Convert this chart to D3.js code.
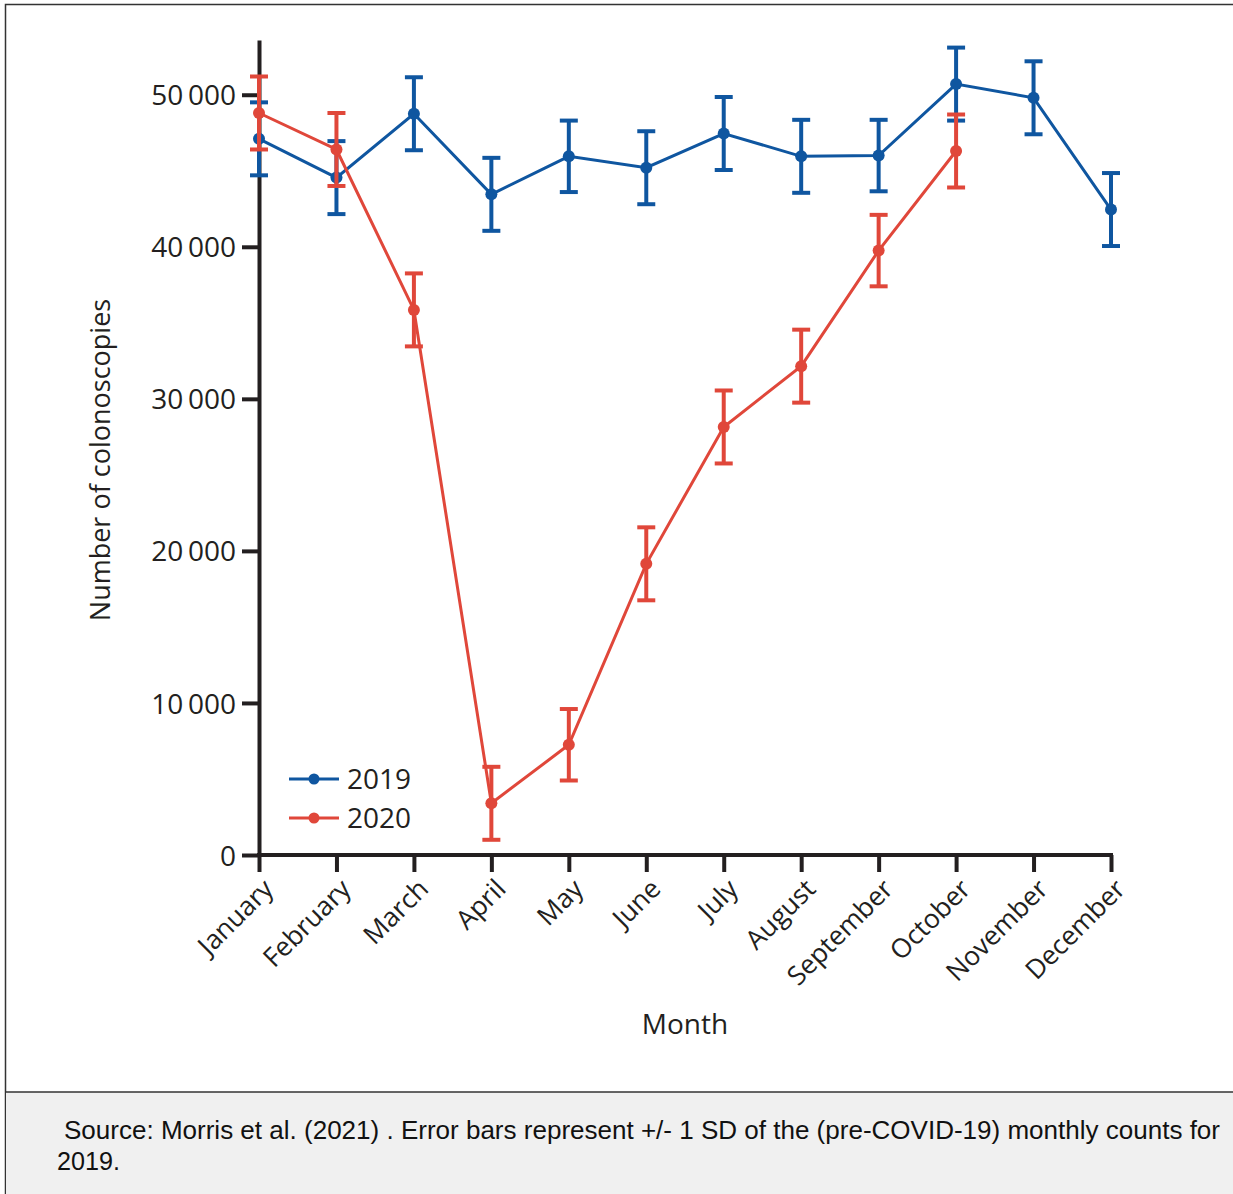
<!DOCTYPE html>
<html>
<head>
<meta charset="utf-8">
<script src="https://cdn.jsdelivr.net/npm/d3@7"></script>
<style>
  html, body { margin: 0; padding: 0; background: #fff; }
  svg { display: block; }
  .chart-text { font-family: "Open Sans", "Noto Sans", sans-serif; fill: #231f20; }
  .note { font-family: "Liberation Sans", Arial, sans-serif; fill: #111; }
</style>
</head>
<body>
<svg id="chart" width="1233" height="1194"></svg>
<script>
// Monthly colonoscopy counts
const months = ["January", "February", "March", "April", "May", "June",
  "July", "August", "September", "October", "November", "December"];
const counts2019 = [47100, 44550, 48750, 43450, 45950, 45200, 47450, 45950, 46000, 50700, 49800, 42450];
const counts2020 = [48800, 46400, 35850, 3400, 7250, 19150, 28150, 32150, 39750, 46300];
// +/- 1 SD of the 2019 monthly counts
const sd2019 = [2400, 2400, 2400, 2400, 2350, 2400, 2400, 2400, 2350, 2400, 2400, 2400];
const yTicks = [0, 10000, 20000, 30000, 40000, 50000];

const blue = "#0f56a0";
const red = "#e0473a";
const ink = "#231f20";

const svg = d3.select("#chart");

// Frame and footer
svg.append("rect").attr("x", 5.5).attr("y", 4.5).attr("width", 1240).attr("height", 1200)
  .attr("fill", "#fff").attr("stroke", "#333").attr("stroke-width", 1.5);
svg.append("rect").attr("x", 6).attr("y", 1092).attr("width", 1240).attr("height", 110)
  .attr("fill", "#f0f0f0");
svg.append("line").attr("x1", 5).attr("x2", 1233).attr("y1", 1092).attr("y2", 1092)
  .attr("stroke", "#333").attr("stroke-width", 1.5);

const note = svg.append("text").attr("class", "note").attr("font-size", 25);
note.append("tspan").attr("x", 64).attr("y", 1139)
  .attr("textLength", 1156).attr("lengthAdjust", "spacingAndGlyphs")
  .text("Source: Morris et al. (2021) . Error bars represent +/- 1 SD of the (pre-COVID-19) monthly counts for");
note.append("tspan").attr("x", 57).attr("y", 1170)
  .attr("textLength", 63).attr("lengthAdjust", "spacingAndGlyphs").text("2019.");

// Scales
const x = d3.scalePoint().domain(months).range([259, 1111]);
const y = d3.scaleLinear().domain([0, 53600]).range([855, 40]);

const fmt = v => d3.format(",")(v).replace(/,/g, "\u2009");

// Y axis
const yAxis = svg.append("g").attr("transform", "translate(259,0)")
  .call(d3.axisLeft(y).tickValues(yTicks).tickFormat(fmt).tickSize(17).tickSizeOuter(0).tickPadding(6));
yAxis.select(".domain").attr("stroke", ink).attr("stroke-width", 4);
yAxis.selectAll(".tick line").attr("stroke", ink).attr("stroke-width", 4);
yAxis.selectAll(".tick text").attr("class", "chart-text").attr("font-size", 28).attr("dy", "0.36em");

// X axis
const xAxis = svg.append("g").attr("transform", "translate(0,855)")
  .call(d3.axisBottom(x).tickSize(17).tickSizeOuter(0));
xAxis.select(".domain").attr("stroke", ink).attr("stroke-width", 4)
  .attr("d", `M${x(months[0]) - 2},0H${x(months[11]) + 2}`);
xAxis.selectAll(".tick line").attr("stroke", ink).attr("stroke-width", 4);
xAxis.selectAll(".tick text").attr("class", "chart-text").attr("font-size", 26.5)
  .attr("text-anchor", "end")
  .attr("x", 0).attr("y", 0).attr("dy", "0.72em")
  .attr("transform", "translate(2,22) rotate(-45)");

// Axis titles
svg.append("text").attr("class", "chart-text").attr("font-size", 27)
  .attr("text-anchor", "middle")
  .attr("transform", "translate(110,460) rotate(-90)")
  .text("Number of colonoscopies");
svg.append("text").attr("class", "chart-text").attr("font-size", 28)
  .attr("text-anchor", "middle").attr("x", 685).attr("y", 1034).text("Month");

// Series
const series = [
  { name: "2019", color: blue, values: counts2019 },
  { name: "2020", color: red, values: counts2020 }
];

const line = d3.line().x(d => x(d.m)).y(d => y(d.v));

series.forEach(s => {
  const pts = s.values.map((v, i) => ({ m: months[i], v, sd: sd2019[i] }));
  const g = svg.append("g");
  const bars = g.selectAll("g.err").data(pts).join("g").attr("class", "err");
  bars.append("line")
    .attr("x1", d => x(d.m)).attr("x2", d => x(d.m))
    .attr("y1", d => y(d.v - d.sd)).attr("y2", d => y(d.v + d.sd))
    .attr("stroke", s.color).attr("stroke-width", 4);
  [-1, 1].forEach(k => {
    bars.append("line")
      .attr("x1", d => x(d.m) - 9).attr("x2", d => x(d.m) + 9)
      .attr("y1", d => y(d.v + k * d.sd)).attr("y2", d => y(d.v + k * d.sd))
      .attr("stroke", s.color).attr("stroke-width", 4);
  });
  g.append("path").datum(pts).attr("d", line)
    .attr("fill", "none").attr("stroke", s.color).attr("stroke-width", 3);
  g.selectAll("circle").data(pts).join("circle")
    .attr("cx", d => x(d.m)).attr("cy", d => y(d.v)).attr("r", 6)
    .attr("fill", s.color);
});

// Legend
const legend = svg.append("g");
series.forEach((s, i) => {
  const ly = 779 + i * 39;
  legend.append("line").attr("x1", 289).attr("x2", 339).attr("y1", ly).attr("y2", ly)
    .attr("stroke", s.color).attr("stroke-width", 3);
  legend.append("circle").attr("cx", 314).attr("cy", ly).attr("r", 5.5).attr("fill", s.color);
  legend.append("text").attr("class", "chart-text").attr("font-size", 28)
    .attr("x", 347).attr("y", ly).attr("dy", "0.36em").text(s.name);
});
</script>
</body>
</html>
